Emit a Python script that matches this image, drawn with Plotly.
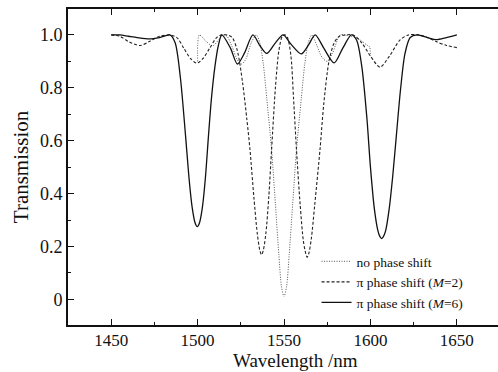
import plotly.graph_objects as go

# ---- data ----
wl_none = [1500, 1501, 1505, 1508.7, 1512, 1515, 1517, 1520, 1523, 1525.5, 1528, 1531, 1534,
           1536, 1538, 1540, 1542.8, 1545, 1547, 1548.5, 1550, 1551.5, 1553, 1555, 1557.2,
           1560, 1562, 1564, 1566, 1569, 1572, 1575, 1578, 1582.4, 1585, 1588, 1593, 1597.9, 1599.5, 1600]
t_none = [0.90, 1.0, 0.975, 0.958, 0.98, 1.0, 0.995, 0.955, 0.905, 0.89, 0.91, 0.97, 1.0,
          0.97, 0.89, 0.76, 0.566, 0.36, 0.17, 0.05, 0.01, 0.05, 0.17, 0.36, 0.566,
          0.76, 0.89, 0.97, 1.0, 0.96, 0.915, 0.90, 0.93, 1.0, 1.0, 0.995, 0.985, 0.962, 0.955, 0.92]

wl_m2 = [1450, 1455, 1460, 1466.7, 1472, 1478, 1484, 1488, 1492, 1496, 1499.5, 1503, 1507, 1511,
         1514, 1517, 1520, 1523, 1526, 1528.5, 1530.3, 1532.5, 1534.5, 1536, 1537, 1538, 1539.5,
         1541.2, 1542.8, 1545, 1547, 1549, 1550.5, 1552, 1554, 1555.5, 1557.2, 1559.3, 1561.2,
         1562.5, 1563.4, 1564.4, 1565.8, 1567.8, 1570.8, 1573, 1576, 1579, 1582, 1586, 1590,
         1595, 1600, 1605.5, 1611, 1617, 1622, 1628, 1633, 1638, 1644, 1650]
t_m2 = [1.0, 0.995, 0.975, 0.96, 0.975, 0.995, 1.0, 0.99, 0.95, 0.91, 0.893, 0.91, 0.95, 0.99,
        1.0, 1.0, 0.99, 0.94, 0.82, 0.68, 0.566, 0.39, 0.25, 0.185, 0.168, 0.185, 0.25,
        0.39, 0.566, 0.80, 0.94, 0.995, 1.0, 0.99, 0.92, 0.76, 0.566, 0.36, 0.22,
        0.175, 0.159, 0.175, 0.23, 0.36, 0.566, 0.74, 0.90, 0.97, 0.995, 1.0, 1.0,
        0.97, 0.92, 0.878, 0.92, 0.98, 1.0, 1.0, 0.99, 0.975, 0.96, 0.952]

wl_m6 = [1450, 1455, 1460, 1465, 1472, 1478, 1484, 1487, 1490, 1493, 1495, 1496.8, 1498.5,
         1499.8, 1501.1, 1502.8, 1504.5, 1506.3, 1508, 1510, 1512, 1514, 1519, 1523, 1527, 1532,
         1536, 1540, 1545, 1549.5, 1554, 1560, 1564, 1568, 1573, 1579, 1584, 1589, 1592, 1595,
         1598, 1600, 1602.3, 1604.3, 1605.5, 1606.5, 1607.5, 1608.8, 1610.8, 1612.8, 1615,
         1617.5, 1620, 1623, 1627, 1633, 1638, 1644, 1650]
t_m6 = [1.0, 1.0, 0.995, 0.99, 0.985, 0.99, 1.0, 0.97, 0.84, 0.62, 0.46, 0.35, 0.29,
        0.275, 0.29, 0.35, 0.46, 0.62, 0.76, 0.88, 0.96, 1.0, 0.95, 0.89, 0.93, 1.0,
        0.96, 0.93, 0.97, 1.0, 0.965, 0.928, 0.96, 1.0, 0.95, 0.894, 0.95, 1.0, 0.98, 0.88,
        0.68, 0.50, 0.34, 0.26, 0.237, 0.23, 0.237, 0.26, 0.34, 0.46, 0.62,
        0.80, 0.93, 0.99, 1.0, 0.99, 0.982, 0.99, 1.0]

names = ["no phase shift", "\u03c0 phase shift (<i>M</i>=2)", "\u03c0 phase shift (<i>M</i>=6)"]
x_ticks = [1450, 1500, 1550, 1600, 1650]
y_ticks = [0, 0.2, 0.4, 0.6, 0.8, 1.0]
y_ticklabels = ["0", "0.2", "0.4", "0.6", "0.8", "1.0"]
x_title = "Wavelength /nm"
y_title = "Transmission"

SERIF = "Liberation Serif"

fig = go.Figure()
fig.add_trace(go.Scatter(x=wl_none, y=t_none, mode="lines", name=names[0],
                         line=dict(color="#555555", width=1, dash="1px,1.5px", shape="spline", smoothing=0.8)))
fig.add_trace(go.Scatter(x=wl_m2, y=t_m2, mode="lines", name=names[1],
                         line=dict(color="#222222", width=1.1, dash="3px,2px", shape="spline", smoothing=0.8)))
fig.add_trace(go.Scatter(x=wl_m6, y=t_m6, mode="lines", name=names[2],
                         line=dict(color="#111111", width=1.3, shape="spline", smoothing=0.8)))

fig.update_layout(
    width=498, height=372,
    margin=dict(l=68, r=0, t=9, b=47),
    paper_bgcolor="white", plot_bgcolor="white",
    font=dict(family=SERIF, color="#111111", size=18),
    showlegend=True,
    legend=dict(x=0.578, y=0.25, xanchor="left", yanchor="top",
                bgcolor="rgba(0,0,0,0)", borderwidth=0,
                font=dict(family=SERIF, size=13.5, color="#111111"),
                tracegroupgap=0, itemwidth=30),
    xaxis=dict(range=[1425, 1673.8], tickvals=x_ticks, ticks="inside", ticklen=6, tickwidth=1.3,
               tickcolor="#111111", showline=True, linecolor="#111111", linewidth=2,
               mirror="ticks", showgrid=False, zeroline=False, ticklabelstandoff=-1,
               minor=dict(dtick=25, tick0=1425, ticks="inside", ticklen=3, tickcolor="#111111"),
               tickfont=dict(family=SERIF, size=17)),
    yaxis=dict(range=[-0.097, 1.098], tickvals=y_ticks, ticktext=y_ticklabels, ticks="inside",
               ticklen=6, tickwidth=1.3, tickcolor="#111111", showline=True, linecolor="#111111",
               linewidth=2, mirror=False, showgrid=False, zeroline=False,
               minor=dict(dtick=0.1, tick0=0, ticks="inside", ticklen=3, tickcolor="#111111"),
               tickfont=dict(family=SERIF, size=18),
               title=dict(text=y_title, font=dict(family=SERIF, size=21), standoff=6)),
    annotations=[dict(text=x_title, xref="paper", yref="paper", x=0.528, y=0,
                      xanchor="center", yanchor="middle", yshift=-35, showarrow=False,
                      font=dict(family=SERIF, size=19, color="#111111"))],
)

fig.write_html("out.html")
